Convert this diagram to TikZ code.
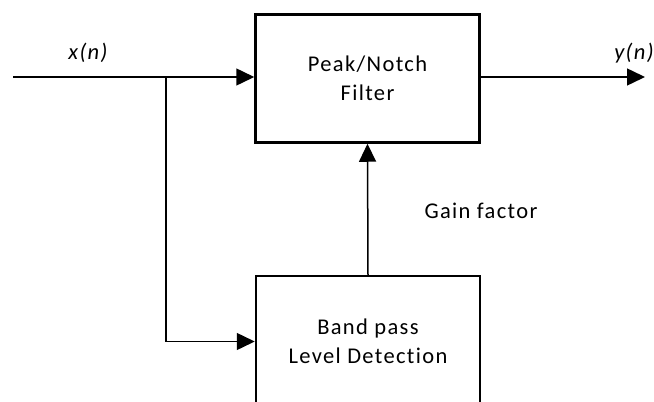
\documentclass[tikz,border=0pt]{standalone}
\usepackage{fontspec}
\setmainfont{Carlito}[Ligatures=NoCommon,LetterSpace=6]
\usetikzlibrary{arrows.meta}
\begin{document}
\begin{tikzpicture}[x=1pt,y=-1pt,
  blk/.style={draw,line width=2.5pt,minimum width=224pt,inner sep=0pt,align=center,font=\fontsize{22.5}{29.5}\selectfont},
  conn/.style={line width=1.5pt},
  arr/.style={conn,-{Triangle[length=18pt,width=17pt]}},
  lbl/.style={font=\fontsize{22.5}{26}\selectfont}]
\useasboundingbox (0,0) rectangle (654,402);
\clip (0,0) rectangle (654,402);
\node[blk,minimum height=128pt] (top) at (367.5,78.5) {Peak/Notch\\Filter};
\node[blk,minimum height=131pt] (bot) at (368,341.5) {Band pass\\Level Detection};
\coordinate (in) at (13,77);
\coordinate (br) at (166,77);
\coordinate (out) at (645,77);
\draw[arr] (in) -- (top.west |- in);
\draw[arr] (br) |- (bot.west);
\draw[arr] (top.east |- out) -- (out);
\draw[arr] (bot.north) -- (top.south);
\node[lbl,font=\fontsize{22.5}{26}\selectfont\itshape] (xn) at (88,53) {x(n)};
\node[lbl,font=\fontsize{22.5}{26}\selectfont\itshape] (yn) at (634,53) {y(n)};
\node[lbl] (gain) at (481,211) {Gain factor};
\end{tikzpicture}
\end{document}
